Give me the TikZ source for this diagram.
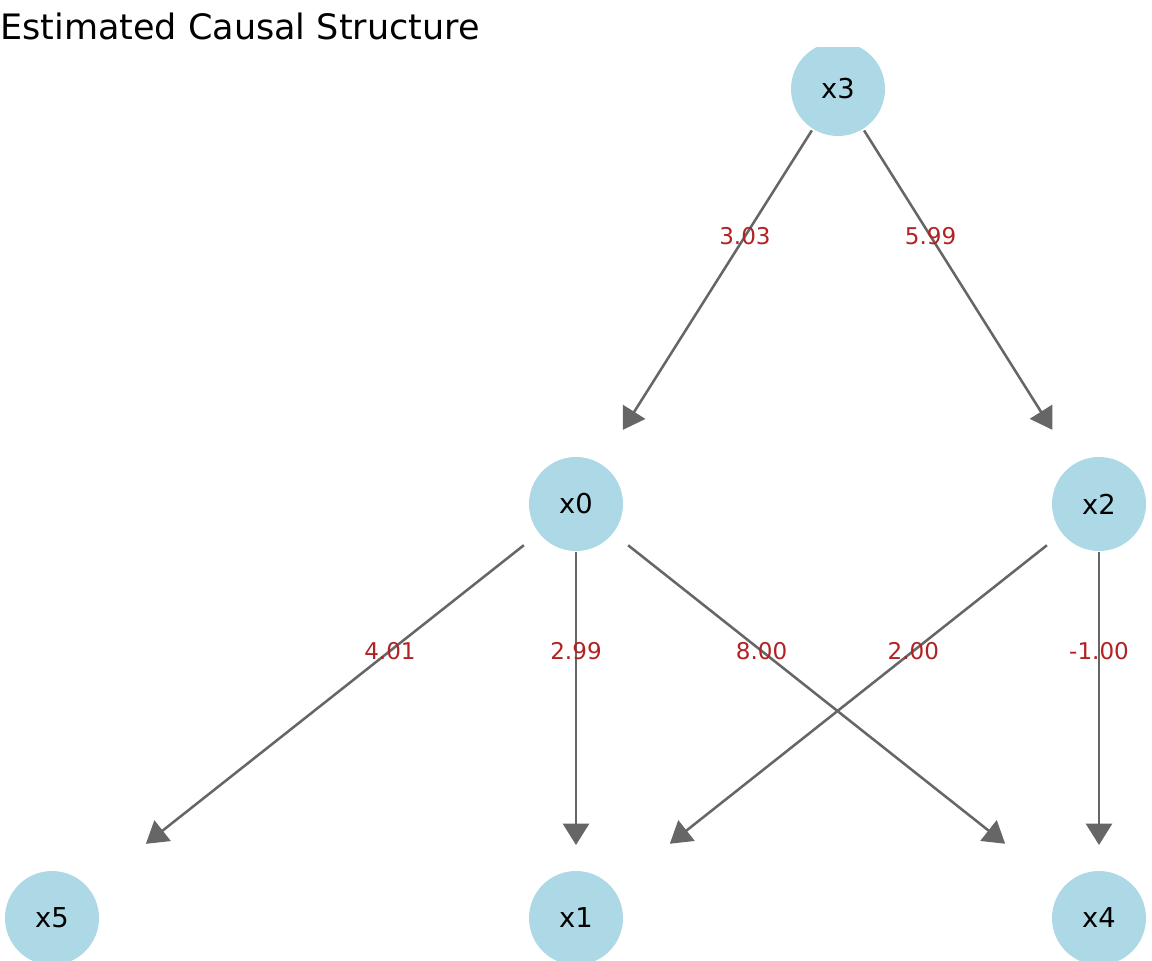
\documentclass[tikz,border=0pt]{standalone}
\usepackage{fontspec}
\setmainfont{DejaVu Sans}
\usetikzlibrary{arrows.meta}
\definecolor{nodeblue}{HTML}{ADD8E6}
\definecolor{edgegray}{HTML}{666666}
\definecolor{labelred}{HTML}{B22222}
\tikzset{
  vnode/.style={circle, fill=nodeblue, draw=none, minimum size=70.5pt, inner sep=0pt, outer sep=0pt, font=\fontsize{20.5pt}{23pt}\selectfont},
  edge/.style={draw=edgegray, line width=1.9pt, -{Triangle[length=16pt,width=19.5pt]}},
  elabel/.style={text=labelred, inner sep=0pt, font=\fontsize{17.3pt}{19pt}\selectfont},
  ttl/.style={anchor=base west, inner sep=0pt, font=\fontsize{26.25pt}{30pt}\selectfont}
}
\begin{document}
\begin{tikzpicture}[x=0.75pt, y=-0.75pt]
\useasboundingbox (0,0) rectangle (1152,960);
\node[ttl] (title) at (0,39.3) {Estimated Causal Structure};
\begin{scope}
\clip (0,47) rectangle (1152,960);
\node[vnode] (x3) at (838,89) {x3};
\node[vnode] (x0) at (576,504) {x0};
\node[vnode] (x2) at (1099,504) {x2};
\node[vnode] (x5) at (52,918) {x5};
\node[vnode] (x1) at (576,918) {x1};
\node[vnode] (x4) at (1099,918) {x4};
\draw[edge, shorten <=1.5pt, shorten >=30.5pt] (x3) -- (x0);
\draw[edge, shorten <=1.5pt, shorten >=30.5pt] (x3) -- (x2);
\draw[edge, shorten <=14.6pt, shorten >=54.5pt] (x0) -- (x5);
\draw[edge, shorten <=0.8pt, shorten >=19.5pt] (x0) -- (x1);
\draw[edge, shorten <=14.6pt, shorten >=54.5pt] (x0) -- (x4);
\draw[edge, shorten <=14.6pt, shorten >=54.5pt] (x2) -- (x1);
\draw[edge, shorten <=0.8pt, shorten >=19.5pt] (x2) -- (x4);
\path (x3.center) -- node[elabel, pos=0.355] (l30) {3.03} (x0.center);
\path (x3.center) -- node[elabel, pos=0.355] (l32) {5.99} (x2.center);
\path (x0.center) -- node[elabel, pos=0.355] (l05) {4.01} (x5.center);
\path (x0.center) -- node[elabel, pos=0.355] (l01) {2.99} (x1.center);
\path (x0.center) -- node[elabel, pos=0.355] (l04) {8.00} (x4.center);
\path (x2.center) -- node[elabel, pos=0.355] (l21) {2.00} (x1.center);
\path (x2.center) -- node[elabel, pos=0.355] (l24) {-1.00} (x4.center);
\end{scope}
\end{tikzpicture}
\end{document}
